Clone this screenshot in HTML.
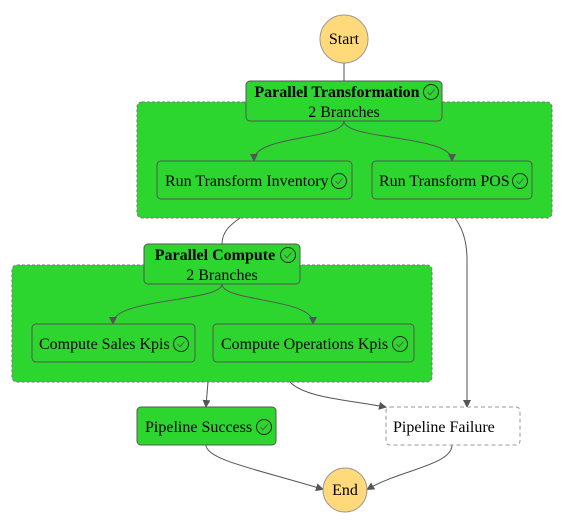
<!DOCTYPE html>
<html><head><meta charset="utf-8"><style>
body{margin:0;background:#fff;}
text{font-family:"Liberation Serif","Times New Roman",Times,serif;font-size:16px;fill:#000;}
</style></head><body>
<svg width="565" height="524" viewBox="0 0 565 524" xmlns="http://www.w3.org/2000/svg" font-family="Liberation Serif, serif">
<defs>
<marker id="a" markerWidth="8" markerHeight="8" refX="6" refY="4" orient="auto" markerUnits="userSpaceOnUse"><path d="M0,0 L8,4 L0,8 z" fill="#555"/></marker>
<g id="ck"><circle r="7.5" fill="none" stroke="#222" stroke-width="1"/><path d="M-3.5,0 L-1,2.8 L3.5,-2.5" fill="none" stroke="#555" stroke-width="0.9"/></g>
</defs>
<rect x="137" y="102" width="415" height="116" rx="5" fill="#2dd62f" stroke="#777" stroke-dasharray="3,2"/>
<rect x="12" y="265" width="420" height="117" rx="5" fill="#2dd62f" stroke="#777" stroke-dasharray="3,2"/>
<g fill="none" stroke="#555" stroke-width="1">
<path d="M344,63 L344,81"/>
<path d="M344,121 C344,140 254,135 254,160" marker-end="url(#a)"/>
<path d="M344,121 C344,140 452,135 452,160" marker-end="url(#a)"/>
<path d="M240,218 C230,225 222,232 222,244"/>
<path d="M455,218 C462,228 467,240 467,260 L467,406" marker-end="url(#a)"/>
<path d="M222,284 C222,302 113,298 113,323" marker-end="url(#a)"/>
<path d="M222,284 C222,302 313,298 313,323" marker-end="url(#a)"/>
<path d="M208,382 L206,406" marker-end="url(#a)"/>
<path d="M290,382 C305,398 350,400 385,407" marker-end="url(#a)"/>
<path d="M206,445 C206,460 260,470 322,489" marker-end="url(#a)"/>
<path d="M452,445 C452,465 400,470 368,489" marker-end="url(#a)"/>
</g>
<circle cx="344" cy="39" r="24" fill="#ffd97a" stroke="#999"/>
<text x="344" y="44" text-anchor="middle">Start</text>
<rect x="246" y="81" width="196" height="40" rx="4" fill="#2dd62f" stroke="#555"/>
<text x="337" y="97" text-anchor="middle" font-weight="bold">Parallel Transformation</text>
<use href="#ck" x="431" y="92"/>
<text x="344" y="117" text-anchor="middle">2 Branches</text>
<rect x="157" y="161" width="195" height="38" rx="4" fill="#2dd62f" stroke="#555"/>
<text x="165" y="186">Run Transform Inventory</text><use href="#ck" x="339" y="181"/>
<rect x="372" y="161" width="160" height="38" rx="4" fill="#2dd62f" stroke="#555"/>
<text x="379" y="186">Run Transform POS</text><use href="#ck" x="520" y="181"/>
<rect x="144" y="244" width="156" height="40" rx="4" fill="#2dd62f" stroke="#555"/>
<text x="215" y="260" text-anchor="middle" font-weight="bold">Parallel Compute</text>
<use href="#ck" x="288" y="255"/>
<text x="222" y="280" text-anchor="middle">2 Branches</text>
<rect x="32" y="324" width="163" height="38" rx="4" fill="#2dd62f" stroke="#555"/>
<text x="39" y="349">Compute Sales Kpis</text><use href="#ck" x="181" y="344"/>
<rect x="213" y="324" width="201" height="38" rx="4" fill="#2dd62f" stroke="#555"/>
<text x="221" y="349">Compute Operations Kpis</text><use href="#ck" x="400" y="344"/>
<rect x="137" y="407" width="139" height="38" rx="4" fill="#2dd62f" stroke="#555"/>
<text x="145" y="432">Pipeline Success</text><use href="#ck" x="264" y="427"/>
<rect x="386" y="407" width="134" height="38" rx="4" fill="#fff" stroke="#999" stroke-dasharray="4,3"/>
<text x="393" y="432">Pipeline Failure</text>
<circle cx="345" cy="490" r="22" fill="#ffd97a" stroke="#999"/>
<text x="345" y="495" text-anchor="middle">End</text>
</svg>
</body></html>
